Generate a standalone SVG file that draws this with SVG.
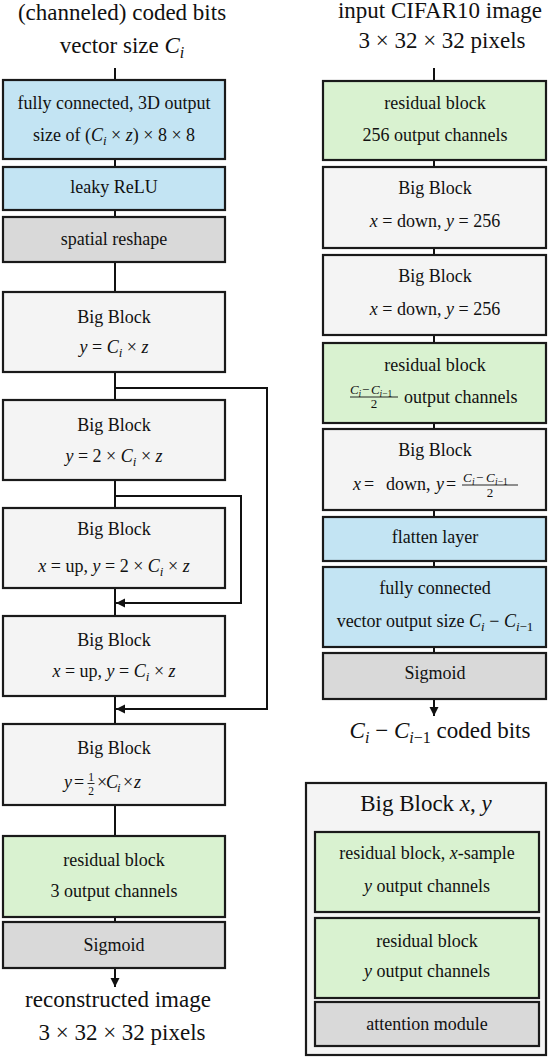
<svg xmlns="http://www.w3.org/2000/svg" width="548" height="1058" viewBox="0 0 548 1058">
<style>
text{font-family:"Liberation Serif","Times New Roman",serif;font-size:18px;fill:#111;text-anchor:middle}
text.h{font-size:23px}
text.st{text-anchor:start}
.i{font-style:italic}
.sb{font-size:13px}
.hs{font-size:16px}
.fr{font-size:13px}
text.fh{font-size:11.5px}
.fs{font-size:9.5px}
rect{stroke:#1a1a1a;stroke-width:2.2}
.blue{fill:#c3e4f3}
.green{fill:#d9f2d0}
.light{fill:#f4f4f4}
.gray{fill:#d9d9d9}
.conn path,.conn line{stroke:#111;stroke-width:2;fill:none}
.bar{stroke:#111;stroke-width:0.9}
</style>
<defs>
<marker id="ah" markerWidth="10" markerHeight="10" refX="9" refY="5" orient="auto" markerUnits="userSpaceOnUse">
<path d="M0,0.5 L9,5 L0,9.5 z" fill="#111"/>
</marker>
</defs>

<g id="labels">
<text class="h" x="122" y="20">(channeled) coded bits</text>
<text class="h" x="122" y="53">vector size <tspan class="i">C</tspan><tspan class="i hs" dy="5">i</tspan></text>
<text class="h" x="440" y="18">input CIFAR10 image</text>
<text class="h" x="442" y="48">3 × 32 × 32 pixels</text>
<text class="h" x="118" y="1007">reconstructed image</text>
<text class="h" x="122" y="1040">3 × 32 × 32 pixels</text>
<text class="h" x="440" y="738"><tspan class="i">C</tspan><tspan class="i hs" dy="5">i</tspan><tspan dy="-5"> − </tspan><tspan class="i">C</tspan><tspan class="hs" dy="5"><tspan class="i">i</tspan>−1</tspan><tspan dy="-5"> coded bits</tspan></text>
</g>

<g class="conn" id="connectors">
<line x1="115" y1="68" x2="115" y2="80"/>
<line x1="115" y1="159" x2="115" y2="167"/>
<line x1="115" y1="210" x2="115" y2="217"/>
<line x1="115" y1="262" x2="115" y2="292"/>
<line x1="115" y1="372" x2="115" y2="400"/>
<line x1="115" y1="480" x2="115" y2="508"/>
<line x1="115" y1="588" x2="115" y2="616"/>
<line x1="115" y1="696" x2="115" y2="724"/>
<line x1="115" y1="805" x2="115" y2="836"/>
<line x1="115" y1="917" x2="115" y2="922"/>
<path d="M115,968 V987" marker-end="url(#ah)"/>
<path d="M115,388 H267 V709 H116" marker-end="url(#ah)"/>
<path d="M115,496 H241 V603 H116" marker-end="url(#ah)"/>
<line x1="434" y1="68" x2="434" y2="81"/>
<line x1="434" y1="160" x2="434" y2="167"/>
<line x1="434" y1="248" x2="434" y2="255"/>
<line x1="434" y1="335" x2="434" y2="343"/>
<line x1="434" y1="423" x2="434" y2="429"/>
<line x1="434" y1="510" x2="434" y2="517"/>
<line x1="434" y1="561" x2="434" y2="567"/>
<line x1="434" y1="647" x2="434" y2="653"/>
<path d="M434,699 V716" marker-end="url(#ah)"/>
</g>

<g id="dec-fc">
<rect class="blue" x="3" y="80" width="222" height="79"/>
<text x="114" y="109">fully connected, 3D output</text>
<text x="114" y="141">size of (<tspan class="i">C</tspan><tspan class="i sb" dy="4">i</tspan><tspan dy="-4"> × </tspan><tspan class="i">z</tspan>) × 8 × 8</text>
</g>
<g id="dec-relu">
<rect class="blue" x="3" y="167" width="222" height="43"/>
<text x="114" y="193">leaky ReLU</text>
</g>
<g id="dec-reshape">
<rect class="gray" x="3" y="217" width="222" height="45"/>
<text x="114" y="245">spatial reshape</text>
</g>
<g id="dec-bb1">
<rect class="light" x="3" y="292" width="222" height="80"/>
<text x="114" y="323">Big Block</text>
<text x="114" y="353"><tspan class="i">y</tspan> = <tspan class="i">C</tspan><tspan class="i sb" dy="4">i</tspan><tspan dy="-4"> × </tspan><tspan class="i">z</tspan></text>
</g>
<g id="dec-bb2">
<rect class="light" x="3" y="400" width="222" height="80"/>
<text x="114" y="431">Big Block</text>
<text x="114" y="462"><tspan class="i">y</tspan> = 2 × <tspan class="i">C</tspan><tspan class="i sb" dy="4">i</tspan><tspan dy="-4"> × </tspan><tspan class="i">z</tspan></text>
</g>
<g id="dec-bb3">
<rect class="light" x="3" y="508" width="222" height="80"/>
<text x="114" y="535">Big Block</text>
<text x="114" y="572"><tspan class="i">x</tspan> = up, <tspan class="i">y</tspan> = 2 × <tspan class="i">C</tspan><tspan class="i sb" dy="4">i</tspan><tspan dy="-4"> × </tspan><tspan class="i">z</tspan></text>
</g>
<g id="dec-bb4">
<rect class="light" x="3" y="616" width="222" height="80"/>
<text x="114" y="646">Big Block</text>
<text x="114" y="677"><tspan class="i">x</tspan> = up, <tspan class="i">y</tspan> = <tspan class="i">C</tspan><tspan class="i sb" dy="4">i</tspan><tspan dy="-4"> × </tspan><tspan class="i">z</tspan></text>
</g>
<g id="dec-bb5">
<rect class="light" x="3" y="724" width="222" height="81"/>
<text x="114" y="754">Big Block</text>
<text class="st" y="788"><tspan class="i" x="64">y</tspan><tspan x="74">=</tspan></text>
<text class="st" y="788"><tspan x="97">×</tspan><tspan class="i" x="106">C</tspan><tspan class="i sb" x="117" dy="4">i</tspan><tspan x="123" dy="-4">×</tspan><tspan class="i" x="134">z</tspan></text>
<text class="fh" x="91" y="781">1</text>
<line class="bar" x1="87.5" y1="783.5" x2="94.5" y2="783.5"/>
<text class="fh" x="91" y="795">2</text>
</g>
<g id="dec-res">
<rect class="green" x="3" y="836" width="222" height="81"/>
<text x="114" y="866">residual block</text>
<text x="114" y="897">3 output channels</text>
</g>
<g id="dec-sig">
<rect class="gray" x="3" y="922" width="222" height="46"/>
<text x="114" y="951">Sigmoid</text>
</g>

<g id="enc-res1">
<rect class="green" x="323" y="81" width="223" height="79"/>
<text x="435" y="109">residual block</text>
<text x="435" y="141">256 output channels</text>
</g>
<g id="enc-bb1">
<rect class="light" x="323" y="167" width="223" height="81"/>
<text x="435" y="194">Big Block</text>
<text x="435" y="227"><tspan class="i">x</tspan> = down, <tspan class="i">y</tspan> = 256</text>
</g>
<g id="enc-bb2">
<rect class="light" x="323" y="255" width="223" height="80"/>
<text x="435" y="282">Big Block</text>
<text x="435" y="315"><tspan class="i">x</tspan> = down, <tspan class="i">y</tspan> = 256</text>
</g>
<g id="enc-res2">
<rect class="green" x="323" y="343" width="223" height="80"/>
<text x="435" y="371">residual block</text>
<text class="st" x="404" y="403">output channels</text>
<text class="fr st" y="394"><tspan class="i" x="350">C</tspan><tspan class="i fs" x="358.5" dy="2.5">i</tspan><tspan x="362" dy="-2.5">−</tspan><tspan class="i" x="371">C</tspan><tspan class="fs" x="379.5" dy="2.5"><tspan class="i">i</tspan>−1</tspan></text>
<line class="bar" x1="350" y1="397" x2="398" y2="397"/>
<text class="fr" x="374" y="408">2</text>
</g>
<g id="enc-bb3">
<rect class="light" x="323" y="429" width="223" height="81"/>
<text x="435" y="456">Big Block</text>
<text class="st" y="490"><tspan class="i" x="353">x</tspan><tspan x="364">=</tspan><tspan x="386">down,</tspan><tspan class="i" x="436">y</tspan><tspan x="446">=</tspan></text>
<text class="fr st" y="482"><tspan class="i" x="463">C</tspan><tspan class="i fs" x="472" dy="2.5">i</tspan><tspan x="476" dy="-2.5">−</tspan><tspan class="i" x="486">C</tspan><tspan class="fs" x="495" dy="2.5"><tspan class="i">i</tspan>−1</tspan></text>
<line class="bar" x1="462" y1="485" x2="518" y2="485"/>
<text class="fr" x="490" y="497">2</text>
</g>
<g id="enc-flatten">
<rect class="blue" x="323" y="517" width="223" height="44"/>
<text x="435" y="543">flatten layer</text>
</g>
<g id="enc-fc">
<rect class="blue" x="323" y="567" width="223" height="80"/>
<text x="435" y="594">fully connected</text>
<text x="435" y="627">vector output size <tspan class="i">C</tspan><tspan class="i sb" dy="4">i</tspan><tspan dy="-4"> − </tspan><tspan class="i">C</tspan><tspan class="sb" dy="4"><tspan class="i">i</tspan>−1</tspan></text>
</g>
<g id="enc-sig">
<rect class="gray" x="323" y="653" width="223" height="46"/>
<text x="435" y="679">Sigmoid</text>
</g>

<g id="legend">
<rect class="light" x="306" y="783" width="240" height="272"/>
<text class="h" x="426" y="811">Big Block <tspan class="i">x</tspan>, <tspan class="i">y</tspan></text>
<g id="legend-res1">
<rect class="green" x="315" y="832" width="224" height="80"/>
<text x="427" y="859">residual block, <tspan class="i">x</tspan>-sample</text>
<text x="427" y="892"><tspan class="i">y</tspan> output channels</text>
</g>
<g id="legend-res2">
<rect class="green" x="315" y="918" width="224" height="80"/>
<text x="427" y="947">residual block</text>
<text x="427" y="977"><tspan class="i">y</tspan> output channels</text>
</g>
<g id="legend-att">
<rect class="gray" x="315" y="1002" width="224" height="44"/>
<text x="427" y="1030">attention module</text>
</g>
</g>
</svg>
